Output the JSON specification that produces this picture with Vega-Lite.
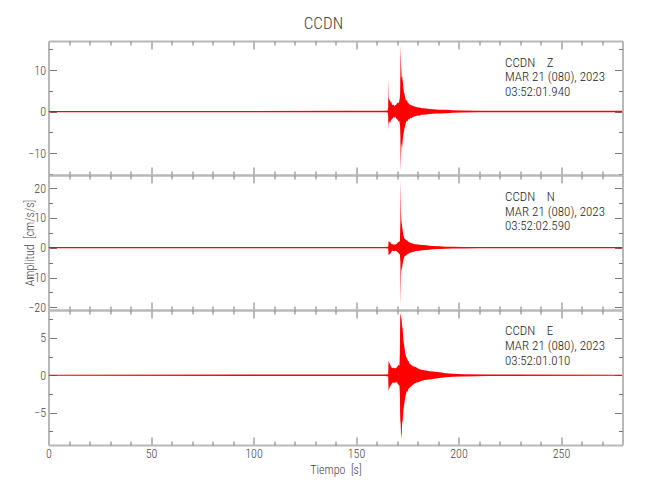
{
  "$schema": "https://vega.github.io/schema/vega-lite/v6.json",
  "title": {"text": "CCDN", "fontSize": 17, "fontWeight": 300, "color": "#444", "anchor": "middle", "offset": 8, "font": "Roboto Condensed, Liberation Sans Narrow, Roboto"},
  "padding": {"left": 23.5, "top": 14, "right": 5, "bottom": 5},
  "spacing": 0,
  "bounds": "flush",
  "config": {
    "view": {"stroke": null},
    "font": "Roboto Condensed, Liberation Sans Narrow, Roboto",
    "axis": {"grid": false, "domainColor": "#b8b8b8", "domainWidth": 2, "tickColor": "#777", "tickWidth": 1,
      "labelFont": "Roboto Condensed, Liberation Sans Narrow, Roboto", "labelFontSize": 12, "labelFontWeight": 300, "labelColor": "#444",
      "labelFlush": false, "labelOverlap": false, "labelBound": false,
      "titleFont": "Roboto Condensed, Liberation Sans Narrow, Roboto", "titleFontSize": 12, "titleFontWeight": 300, "titleColor": "#444"}
  },
  "datasets": {
    "z": [
      {"t": 0, "hi": 0.15, "lo": -0.15}, {"t": 50, "hi": 0.15, "lo": -0.15}, {"t": 100, "hi": 0.15, "lo": -0.15},
      {"t": 150, "hi": 0.18, "lo": -0.18}, {"t": 164, "hi": 0.2, "lo": -0.2}, {"t": 165.5, "hi": 0.25, "lo": -0.25},
      {"t": 165.7, "hi": 1.0, "lo": -1.0}, {"t": 165.8, "hi": 8.2, "lo": -4.5}, {"t": 165.95, "hi": 3.5, "lo": -3.0},
      {"t": 166.2, "hi": 2.6, "lo": -2.2}, {"t": 166.5, "hi": 3.0, "lo": -2.8}, {"t": 166.8, "hi": 2.2, "lo": -2.6},
      {"t": 167.1, "hi": 2.5, "lo": -2.0}, {"t": 167.5, "hi": 1.8, "lo": -1.9}, {"t": 167.9, "hi": 1.5, "lo": -1.6},
      {"t": 168.3, "hi": 1.7, "lo": -1.3}, {"t": 168.7, "hi": 1.3, "lo": -1.5}, {"t": 169.1, "hi": 1.5, "lo": -1.2},
      {"t": 169.5, "hi": 1.6, "lo": -1.6}, {"t": 169.9, "hi": 1.9, "lo": -1.8}, {"t": 170.3, "hi": 2.2, "lo": -2.0},
      {"t": 170.7, "hi": 2.0, "lo": -2.4}, {"t": 171.1, "hi": 2.4, "lo": -2.2}, {"t": 171.5, "hi": 4.0, "lo": -3.5},
      {"t": 171.65, "hi": 9.8, "lo": -6.0}, {"t": 171.8, "hi": 16.1, "lo": -14.5}, {"t": 171.95, "hi": 12.0, "lo": -11.0},
      {"t": 172.1, "hi": 10.0, "lo": -9.0}, {"t": 172.3, "hi": 8.0, "lo": -7.5}, {"t": 172.5, "hi": 8.5, "lo": -8.7},
      {"t": 172.8, "hi": 7.4, "lo": -6.8}, {"t": 173.1, "hi": 5.8, "lo": -5.5}, {"t": 173.4, "hi": 4.6, "lo": -4.8},
      {"t": 173.7, "hi": 4.2, "lo": -4.0}, {"t": 174.0, "hi": 3.2, "lo": -3.4}, {"t": 174.4, "hi": 2.6, "lo": -2.6},
      {"t": 174.8, "hi": 2.8, "lo": -2.2}, {"t": 175.2, "hi": 2.2, "lo": -2.3}, {"t": 175.6, "hi": 2.0, "lo": -1.8},
      {"t": 176.0, "hi": 1.8, "lo": -1.9}, {"t": 176.5, "hi": 1.6, "lo": -1.5}, {"t": 177.0, "hi": 1.5, "lo": -1.6},
      {"t": 177.7, "hi": 1.4, "lo": -1.3}, {"t": 178.5, "hi": 1.2, "lo": -1.2}, {"t": 179.3, "hi": 1.1, "lo": -1.1},
      {"t": 180.1, "hi": 1.0, "lo": -0.95}, {"t": 180.9, "hi": 1.0, "lo": -1.0}, {"t": 181.7, "hi": 0.85, "lo": -0.8},
      {"t": 182.5, "hi": 0.8, "lo": -0.75}, {"t": 184.2, "hi": 0.7, "lo": -0.7}, {"t": 185.8, "hi": 0.6, "lo": -0.6},
      {"t": 187.4, "hi": 0.55, "lo": -0.55}, {"t": 189.0, "hi": 0.5, "lo": -0.45}, {"t": 190.7, "hi": 0.45, "lo": -0.45},
      {"t": 193.9, "hi": 0.4, "lo": -0.4}, {"t": 197.2, "hi": 0.32, "lo": -0.3}, {"t": 202.1, "hi": 0.25, "lo": -0.25},
      {"t": 210, "hi": 0.2, "lo": -0.2}, {"t": 280, "hi": 0.18, "lo": -0.18}
    ],
    "n": [
      {"t": 0, "hi": 0.2, "lo": -0.2}, {"t": 164, "hi": 0.22, "lo": -0.22}, {"t": 165.7, "hi": 0.3, "lo": -0.3},
      {"t": 165.9, "hi": 2.2, "lo": -2.5}, {"t": 166.3, "hi": 2.0, "lo": -2.2}, {"t": 166.7, "hi": 1.8, "lo": -2.0},
      {"t": 167.1, "hi": 1.4, "lo": -1.6}, {"t": 167.5, "hi": 1.1, "lo": -1.1}, {"t": 168.0, "hi": 1.2, "lo": -1.0},
      {"t": 168.5, "hi": 1.0, "lo": -1.2}, {"t": 169.0, "hi": 1.2, "lo": -1.1}, {"t": 169.5, "hi": 1.1, "lo": -1.0},
      {"t": 170.0, "hi": 1.4, "lo": -1.3}, {"t": 170.5, "hi": 1.8, "lo": -1.6}, {"t": 171.0, "hi": 2.0, "lo": -2.0},
      {"t": 171.4, "hi": 2.2, "lo": -2.3}, {"t": 171.65, "hi": 8.7, "lo": -4.7}, {"t": 171.8, "hi": 23.3, "lo": -19.6},
      {"t": 171.95, "hi": 12.1, "lo": -9.2}, {"t": 172.1, "hi": 9.5, "lo": -8.0}, {"t": 172.3, "hi": 8.2, "lo": -6.9},
      {"t": 172.5, "hi": 7.0, "lo": -6.5}, {"t": 172.8, "hi": 5.9, "lo": -5.3}, {"t": 173.1, "hi": 4.3, "lo": -4.1},
      {"t": 173.6, "hi": 3.1, "lo": -3.0}, {"t": 174.0, "hi": 2.9, "lo": -2.8}, {"t": 174.4, "hi": 2.6, "lo": -2.5},
      {"t": 175.0, "hi": 2.4, "lo": -2.2}, {"t": 175.5, "hi": 2.0, "lo": -2.1}, {"t": 176.0, "hi": 1.8, "lo": -1.8},
      {"t": 176.8, "hi": 1.6, "lo": -1.6}, {"t": 177.7, "hi": 1.45, "lo": -1.4}, {"t": 178.5, "hi": 1.2, "lo": -1.25},
      {"t": 179.3, "hi": 1.15, "lo": -1.1}, {"t": 180.9, "hi": 1.0, "lo": -1.0}, {"t": 182.5, "hi": 0.9, "lo": -0.85},
      {"t": 184.2, "hi": 0.8, "lo": -0.8}, {"t": 185.8, "hi": 0.65, "lo": -0.65}, {"t": 187.4, "hi": 0.55, "lo": -0.55},
      {"t": 190.7, "hi": 0.45, "lo": -0.45}, {"t": 193.9, "hi": 0.35, "lo": -0.35}, {"t": 197.2, "hi": 0.3, "lo": -0.3},
      {"t": 202.1, "hi": 0.25, "lo": -0.25}, {"t": 210, "hi": 0.22, "lo": -0.22}, {"t": 280, "hi": 0.2, "lo": -0.2}
    ],
    "e": [
      {"t": 0, "hi": 0.08, "lo": -0.08}, {"t": 164, "hi": 0.1, "lo": -0.1}, {"t": 165.7, "hi": 0.15, "lo": -0.15},
      {"t": 165.9, "hi": 1.96, "lo": -2.1}, {"t": 166.1, "hi": 1.8, "lo": -1.9}, {"t": 166.3, "hi": 1.6, "lo": -1.7},
      {"t": 166.7, "hi": 1.4, "lo": -1.5}, {"t": 167.1, "hi": 1.15, "lo": -1.3}, {"t": 167.5, "hi": 1.0, "lo": -1.1},
      {"t": 167.9, "hi": 0.93, "lo": -1.0}, {"t": 168.5, "hi": 1.0, "lo": -0.95}, {"t": 169.1, "hi": 0.9, "lo": -1.0},
      {"t": 169.7, "hi": 1.0, "lo": -0.9}, {"t": 170.3, "hi": 1.2, "lo": -1.1}, {"t": 170.8, "hi": 1.4, "lo": -1.3},
      {"t": 171.2, "hi": 1.3, "lo": -1.4}, {"t": 171.4, "hi": 3.0, "lo": -2.5}, {"t": 171.5, "hi": 6.0, "lo": -4.6},
      {"t": 171.6, "hi": 8.3, "lo": -6.0}, {"t": 171.8, "hi": 8.0, "lo": -6.5}, {"t": 172.0, "hi": 7.8, "lo": -8.6},
      {"t": 172.1, "hi": 7.6, "lo": -8.2}, {"t": 172.3, "hi": 7.4, "lo": -7.7}, {"t": 172.5, "hi": 6.5, "lo": -6.4},
      {"t": 172.8, "hi": 6.2, "lo": -6.0}, {"t": 173.1, "hi": 4.7, "lo": -4.6}, {"t": 173.6, "hi": 3.8, "lo": -3.7},
      {"t": 174.0, "hi": 3.0, "lo": -3.0}, {"t": 174.4, "hi": 2.5, "lo": -2.5}, {"t": 174.8, "hi": 2.3, "lo": -2.1},
      {"t": 175.2, "hi": 2.0, "lo": -2.2}, {"t": 175.6, "hi": 1.9, "lo": -1.8}, {"t": 176.0, "hi": 1.6, "lo": -1.7},
      {"t": 176.8, "hi": 1.4, "lo": -1.5}, {"t": 177.7, "hi": 1.25, "lo": -1.3}, {"t": 178.5, "hi": 1.15, "lo": -1.1},
      {"t": 179.3, "hi": 1.07, "lo": -1.0}, {"t": 180.9, "hi": 0.8, "lo": -0.85}, {"t": 182.5, "hi": 0.7, "lo": -0.7},
      {"t": 184.2, "hi": 0.62, "lo": -0.6}, {"t": 185.8, "hi": 0.55, "lo": -0.55}, {"t": 187.4, "hi": 0.5, "lo": -0.5},
      {"t": 190.7, "hi": 0.4, "lo": -0.38}, {"t": 193.9, "hi": 0.27, "lo": -0.27}, {"t": 197.2, "hi": 0.2, "lo": -0.2},
      {"t": 202.1, "hi": 0.15, "lo": -0.15}, {"t": 215, "hi": 0.1, "lo": -0.1}, {"t": 280, "hi": 0.08, "lo": -0.08}
    ],
    "tz": [
      {"t": 222.7, "v": 11.8, "s": "CCDN\u00a0\u00a0\u00a0\u00a0Z"}, {"t": 222.7, "v": 8.3, "s": "MAR 21 (080), 2023"}, {"t": 222.7, "v": 4.8, "s": "03:52:01.940"}
    ],
    "tn": [
      {"t": 222.7, "v": 17.1, "s": "CCDN\u00a0\u00a0\u00a0\u00a0N"}, {"t": 222.7, "v": 12.1, "s": "MAR 21 (080), 2023"}, {"t": 222.7, "v": 7.2, "s": "03:52:02.590"}
    ],
    "te": [
      {"t": 222.7, "v": 5.85, "s": "CCDN\u00a0\u00a0\u00a0\u00a0E"}, {"t": 222.7, "v": 3.9, "s": "MAR 21 (080), 2023"}, {"t": 222.7, "v": 1.95, "s": "03:52:01.010"}
    ]
  },
  "vconcat": [
    {
      "width": 574, "height": 134,
      "resolve": {"axis": {"x": "independent", "y": "independent"}},
      "layer": [
        {"data": {"name": "z"}, "mark": {"type": "area", "color": "#ff0000", "clip": true},
         "encoding": {
           "x": {"field": "t", "type": "quantitative", "scale": {"domain": [0, 280], "nice": false, "zero": false},
                 "axis": {"orient": "bottom", "values": [0, 50, 100, 150, 200, 250], "labels": false, "tickSize": -8, "title": null}},
           "y": {"field": "hi", "type": "quantitative", "scale": {"domain": [-15.3, 17], "nice": false, "zero": false},
                 "axis": {"orient": "left", "values": [-10, 0, 10], "tickSize": -8, "labelPadding": 11, "title": null}},
           "y2": {"field": "lo"}}},
        {"data": {"name": "tz"}, "mark": {"type": "text", "align": "left", "baseline": "middle", "fontSize": 13, "fontWeight": 300, "color": "#222"},
         "encoding": {
           "x": {"field": "t", "type": "quantitative", "axis": {"orient": "top", "values": [0, 50, 100, 150, 200, 250], "labels": false, "tickSize": -8, "title": null}},
           "y": {"field": "v", "type": "quantitative", "axis": {"orient": "right", "values": [-10, 0, 10], "labels": false, "tickSize": -8, "title": null}},
           "text": {"field": "s"}}},
        {"data": {"name": "tz"}, "mark": {"type": "text", "opacity": 0},
         "encoding": {
           "x": {"field": "t", "type": "quantitative", "axis": {"orient": "bottom", "values": [10, 20, 30, 40, 60, 70, 80, 90, 110, 120, 130, 140, 160, 170, 180, 190, 210, 220, 230, 240, 260, 270], "labels": false, "domain": false, "tickSize": -4, "title": null}},
           "y": {"field": "v", "type": "quantitative", "axis": {"orient": "left", "values": [-15, -5, 5, 15], "labels": false, "domain": false, "tickSize": -4, "title": null}},
           "text": {"field": "s"}}},
        {"data": {"name": "tz"}, "mark": {"type": "text", "opacity": 0},
         "encoding": {
           "x": {"field": "t", "type": "quantitative", "axis": {"orient": "top", "values": [10, 20, 30, 40, 60, 70, 80, 90, 110, 120, 130, 140, 160, 170, 180, 190, 210, 220, 230, 240, 260, 270], "labels": false, "domain": false, "tickSize": -4, "title": null}},
           "y": {"field": "v", "type": "quantitative", "axis": {"orient": "right", "values": [-15, -5, 5, 15], "labels": false, "domain": false, "tickSize": -4, "title": null}},
           "text": {"field": "s"}}}
      ]
    },
    {
      "width": 574, "height": 135,
      "resolve": {"axis": {"x": "independent", "y": "independent"}},
      "layer": [
        {"data": {"name": "n"}, "mark": {"type": "area", "color": "#ff0000", "clip": true},
         "encoding": {
           "x": {"field": "t", "type": "quantitative", "scale": {"domain": [0, 280], "nice": false, "zero": false},
                 "axis": {"orient": "bottom", "values": [0, 50, 100, 150, 200, 250], "labels": false, "tickSize": -8, "title": null}},
           "y": {"field": "hi", "type": "quantitative", "scale": {"domain": [-20.9, 24.4], "nice": false, "zero": false},
                 "axis": {"orient": "left", "values": [-20, -10, 0, 10, 20], "tickSize": -8, "labelPadding": 11, "title": "Amplitud\u00a0\u00a0[cm/s/s]", "titlePadding": -9}},
           "y2": {"field": "lo"}}},
        {"data": {"name": "tn"}, "mark": {"type": "text", "align": "left", "baseline": "middle", "fontSize": 13, "fontWeight": 300, "color": "#222"},
         "encoding": {
           "x": {"field": "t", "type": "quantitative", "axis": {"orient": "top", "values": [0, 50, 100, 150, 200, 250], "labels": false, "tickSize": -8, "title": null}},
           "y": {"field": "v", "type": "quantitative", "axis": {"orient": "right", "values": [-20, -10, 0, 10, 20], "labels": false, "tickSize": -8, "title": null}},
           "text": {"field": "s"}}},
        {"data": {"name": "tn"}, "mark": {"type": "text", "opacity": 0},
         "encoding": {
           "x": {"field": "t", "type": "quantitative", "axis": {"orient": "bottom", "values": [10, 20, 30, 40, 60, 70, 80, 90, 110, 120, 130, 140, 160, 170, 180, 190, 210, 220, 230, 240, 260, 270], "labels": false, "domain": false, "tickSize": -4, "title": null}},
           "y": {"field": "v", "type": "quantitative", "axis": {"orient": "left", "values": [-15, -5, 5, 15], "labels": false, "domain": false, "tickSize": -4, "title": null}},
           "text": {"field": "s"}}},
        {"data": {"name": "tn"}, "mark": {"type": "text", "opacity": 0},
         "encoding": {
           "x": {"field": "t", "type": "quantitative", "axis": {"orient": "top", "values": [10, 20, 30, 40, 60, 70, 80, 90, 110, 120, 130, 140, 160, 170, 180, 190, 210, 220, 230, 240, 260, 270], "labels": false, "domain": false, "tickSize": -4, "title": null}},
           "y": {"field": "v", "type": "quantitative", "axis": {"orient": "right", "values": [-15, -5, 5, 15], "labels": false, "domain": false, "tickSize": -4, "title": null}},
           "text": {"field": "s"}}}
      ]
    },
    {
      "width": 574, "height": 135,
      "resolve": {"axis": {"x": "independent", "y": "independent"}},
      "layer": [
        {"data": {"name": "e"}, "mark": {"type": "area", "color": "#ff0000", "clip": true},
         "encoding": {
           "x": {"field": "t", "type": "quantitative", "scale": {"domain": [0, 280], "nice": false, "zero": false},
                 "axis": {"orient": "bottom", "values": [0, 50, 100, 150, 200, 250], "tickSize": -8, "labelPadding": 11, "title": "Tiempo\u00a0\u00a0[s]", "titlePadding": 5}},
           "y": {"field": "hi", "type": "quantitative", "scale": {"domain": [-9.3, 8.7], "nice": false, "zero": false},
                 "axis": {"orient": "left", "values": [-5, 0, 5], "tickSize": -8, "labelPadding": 11, "title": null}},
           "y2": {"field": "lo"}}},
        {"data": {"name": "te"}, "mark": {"type": "text", "align": "left", "baseline": "middle", "fontSize": 13, "fontWeight": 300, "color": "#222"},
         "encoding": {
           "x": {"field": "t", "type": "quantitative", "axis": {"orient": "top", "values": [0, 50, 100, 150, 200, 250], "labels": false, "tickSize": -8, "title": null}},
           "y": {"field": "v", "type": "quantitative", "axis": {"orient": "right", "values": [-5, 0, 5], "labels": false, "tickSize": -8, "title": null}},
           "text": {"field": "s"}}},
        {"data": {"name": "te"}, "mark": {"type": "text", "opacity": 0},
         "encoding": {
           "x": {"field": "t", "type": "quantitative", "axis": {"orient": "bottom", "values": [10, 20, 30, 40, 60, 70, 80, 90, 110, 120, 130, 140, 160, 170, 180, 190, 210, 220, 230, 240, 260, 270], "labels": false, "domain": false, "tickSize": -4, "title": null}},
           "y": {"field": "v", "type": "quantitative", "axis": {"orient": "left", "values": [-7.5, -2.5, 2.5, 7.5], "labels": false, "domain": false, "tickSize": -4, "title": null}},
           "text": {"field": "s"}}},
        {"data": {"name": "te"}, "mark": {"type": "text", "opacity": 0},
         "encoding": {
           "x": {"field": "t", "type": "quantitative", "axis": {"orient": "top", "values": [10, 20, 30, 40, 60, 70, 80, 90, 110, 120, 130, 140, 160, 170, 180, 190, 210, 220, 230, 240, 260, 270], "labels": false, "domain": false, "tickSize": -4, "title": null}},
           "y": {"field": "v", "type": "quantitative", "axis": {"orient": "right", "values": [-7.5, -2.5, 2.5, 7.5], "labels": false, "domain": false, "tickSize": -4, "title": null}},
           "text": {"field": "s"}}}
      ]
    }
  ]
}
